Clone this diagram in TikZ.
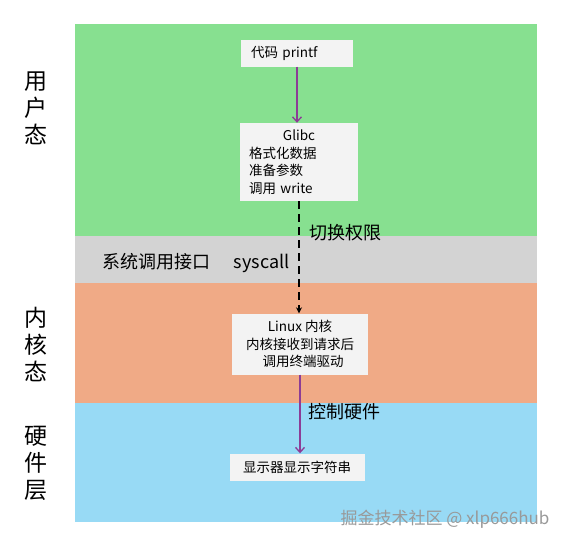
\documentclass[tikz,border=0pt]{standalone}
\usepackage{fontspec}
\setmainfont{Noto Sans CJK SC}
\usetikzlibrary{arrows.meta,positioning}
\definecolor{usergreen}{RGB}{135,224,144}
\definecolor{sysgray}{RGB}{211,211,211}
\definecolor{kernorange}{RGB}{240,170,134}
\definecolor{hwblue}{RGB}{152,218,245}
\definecolor{boxgray}{RGB}{243,243,243}
\definecolor{flowpurple}{RGB}{140,60,150}
\begin{document}
\begin{tikzpicture}[x=1pt, y=-1pt,
    band/.style={inner sep=0pt, minimum width=462pt, anchor=north west},
    box/.style={fill=boxgray, inner sep=0pt, font=\fontsize{13.5}{17.5}\selectfont},
    side/.style={align=center, font=\fontsize{23}{27}\selectfont},
    note/.style={font=\fontsize{18}{20}\selectfont},
    flow/.style={draw=flowpurple, line width=1.3pt, -{Straight Barb[length=5pt,width=9pt]}},
    priv/.style={draw, line width=1.3pt, dashed, dash pattern=on 8pt off 5pt, -{Stealth[length=6pt,width=6pt]}}]
  \useasboundingbox (0,0) rectangle (571,546);
  % layers
  \node[band, fill=usergreen, minimum height=212pt] (user) at (75,24) {};
  \node[band, fill=sysgray, minimum height=47pt] (sys) at (75,236) {};
  \node[band, fill=kernorange, minimum height=120pt] (kern) at (75,283) {};
  \node[band, fill=hwblue, minimum height=119pt] (hw) at (75,403) {};
  % side labels
  \node[side] (userlbl) at (36,108) {用\\户\\态};
  \node[side] (kernlbl) at (36,345) {内\\核\\态};
  \node[side] (hwlbl) at (36,463) {硬\\件\\层};
  % boxes
  \node[box, minimum width=112pt, minimum height=27pt, text width=92pt, align=left] (printf) at (297,53) {代码 printf};
  \node[box, minimum width=118pt, minimum height=78pt, text width=100pt, align=left] (glibc) at (299,162)
    {\makebox[100pt]{Glibc}\\格式化数据\\准备参数\\调用 write};
  \node[box, minimum width=136pt, minimum height=61pt, align=center] (linux) at (300,344)
    {Linux 内核\\内核接收到请求后\\\hspace{6pt}调用终端驱动};
  \node[box, minimum width=135pt, minimum height=27pt] (screen) at (297,467) {显示器显示字符串};
  % arrows
  \draw[flow] (printf.south) -- (glibc.north -| printf.south);
  \draw[priv] (glibc.south) -- (linux.north -| glibc.south);
  \draw[flow] (linux.south) -- (screen.north -| linux.south);
  % labels
  \node[note, anchor=west] (switch) at (306,233) {切换权限};
  \node[note, anchor=west] (iface) at (99,262) {系统调用接口};
  \node[note, anchor=east] (syscall) at (293,263) {syscall};
  \node[note, anchor=west] (ctrl) at (305,412) {控制硬件};
  \node[font=\fontsize{17}{19}\selectfont, text=black!40] (mark) at (445,519) {掘金技术社区 @ xlp666hub};
\end{tikzpicture}
\end{document}
